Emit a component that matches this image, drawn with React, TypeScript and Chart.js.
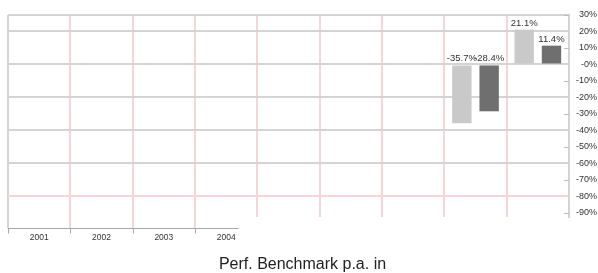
import React, { useEffect, useRef } from "react";
import { Chart, registerables } from "chart.js";

Chart.register(...registerables);

const categories = ["2001", "2002", "2003", "2004", "", "", "", "", ""];
const fundValues: (number | null)[] = [null, null, null, null, null, null, null, -35.7, 21.1];
const benchmarkValues: (number | null)[] = [null, null, null, null, null, null, null, -28.4, 11.4];
const yMin = -92.5;
const yMax = 30;
const yStep = 10;
const titleText = "Perf. Benchmark p.a. in";

const FONT = "Arial, 'Liberation Sans', sans-serif";
const GRID_GRAY = "#d4d4d4";
const GRID_PINK = "#f5d5d5";

const extrasPlugin = {
  id: "extras",
  afterDatasetsDraw(chart: any) {
    const { ctx, chartArea, scales } = chart;
    const x = scales.x;
    const y = scales.y;
    ctx.save();
    ctx.lineWidth = 1;
    // small inner ticks at odd tens on the right edge
    ctx.strokeStyle = "#bdbdbd";
    y.ticks.forEach((t: any) => {
      if (Math.abs(t.value) % 20 === 10) {
        const py = Math.round(y.getPixelForValue(t.value)) + 0.5;
        ctx.beginPath();
        ctx.moveTo(chartArea.right - 5, py);
        ctx.lineTo(chartArea.right, py);
        ctx.stroke();
      }
    });
    const half = (x.getPixelForValue(1) - x.getPixelForValue(0)) / 2;
    const axisY = Math.round(chartArea.bottom + 11) + 0.5;
    const labelled = categories.filter((c) => c !== "").length;
    // separators of labelled categories continue down to the axis line
    for (let i = 0; i < labelled; i++) {
      const px = Math.round(x.getPixelForValue(i) - half);
      ctx.strokeStyle = i === 0 ? GRID_GRAY : GRID_PINK;
      ctx.lineWidth = 2;
      ctx.beginPath();
      ctx.moveTo(px, chartArea.bottom);
      ctx.lineTo(px, axisY);
      ctx.stroke();
      ctx.lineWidth = 1;
      ctx.strokeStyle = "#a8a8a8";
      ctx.beginPath();
      ctx.moveTo(px + 0.5, axisY);
      ctx.lineTo(px + 0.5, axisY + 5);
      ctx.stroke();
    }
    // detached x axis line
    ctx.strokeStyle = "#a8a8a8";
    ctx.beginPath();
    ctx.moveTo(chartArea.left, axisY);
    ctx.lineTo(x.getPixelForValue(labelled - 1) + half * 0.4, axisY);
    ctx.stroke();
    // data labels
    ctx.fillStyle = "#333";
    ctx.font = `9.5px ${FONT}`;
    ctx.textAlign = "center";
    ctx.textBaseline = "bottom";
    chart.data.datasets.forEach((ds: any, di: number) => {
      const meta = chart.getDatasetMeta(di);
      meta.data.forEach((el: any, i: number) => {
        const v = ds.data[i];
        if (v === null || v === undefined) return;
        const top = v >= 0 ? el.y : el.base;
        ctx.fillText(v.toFixed(1) + "%", el.x, top - 2);
      });
    });
    ctx.restore();
  },
};

export default function App() {
  const ref = useRef<HTMLCanvasElement>(null);
  useEffect(() => {
    if (!ref.current) return;
    const chart = new Chart(ref.current, {
      type: "bar",
      data: {
        labels: categories,
        datasets: [
          {
            label: "Fund",
            data: fundValues,
            backgroundColor: "#c9c9c9",
            borderWidth: 0,
          },
          {
            label: "Benchmark",
            data: benchmarkValues,
            backgroundColor: "#6f6f6f",
            borderWidth: 0,
          },
        ],
      },
      options: {
        animation: false,
        responsive: true,
        maintainAspectRatio: false,
        layout: { padding: { top: 15, right: 1, left: 8, bottom: 0 } },
        datasets: {
          bar: { barPercentage: 0.71, categoryPercentage: 0.876 },
        },
        plugins: {
          legend: { display: false },
          tooltip: { enabled: false },
          title: {
            display: true,
            position: "bottom",
            text: titleText,
            color: "#222",
            font: { family: FONT, size: 16, weight: "normal", lineHeight: 1 },
            padding: { top: 13.8, bottom: 0 },
          },
        },
        scales: {
          x: {
            position: "bottom",
            border: { display: false },
            grid: {
              offset: true,
              lineWidth: 2,
              color: (c: any) =>
                c.index === 0 || c.index === undefined ? GRID_GRAY : GRID_PINK,
              tickLength: 16,
              tickColor: "rgba(0,0,0,0)",
            },
            ticks: {
              color: "#333",
              font: { family: FONT, size: 8.5 },
              padding: 0,
              maxRotation: 0,
              autoSkip: false,
            },
          },
          y: {
            position: "right",
            min: yMin,
            max: yMax,
            border: { display: true, color: GRID_GRAY, width: 2 },
            grid: {
              drawTicks: false,
              tickLength: 0,
              lineWidth: 2,
              color: (c: any) => {
                const v = c.tick ? c.tick.value : 0;
                if (v === yMax) return GRID_GRAY;
                if (v === -80) return GRID_PINK;
                if (Math.abs(v) % 20 === 0) return GRID_GRAY;
                return "rgba(0,0,0,0)";
              },
            },
            afterFit: (s: any) => {
              s.width = 28;
            },
            ticks: {
              stepSize: yStep,
              includeBounds: false,
              crossAlign: "far",
              padding: 0,
              color: "#333",
              font: { family: FONT, size: 9 },
              callback: (v: any) => (v === 0 ? "-0%" : `${v}%`),
            },
          },
        },
      },
      plugins: [extrasPlugin],
    } as any);
    return () => chart.destroy();
  }, []);
  return (
    <div style={{ position: "fixed", left: 0, top: 0, width: 598, height: 273, background: "#fff" }}>
      <canvas ref={ref} />
    </div>
  );
}
